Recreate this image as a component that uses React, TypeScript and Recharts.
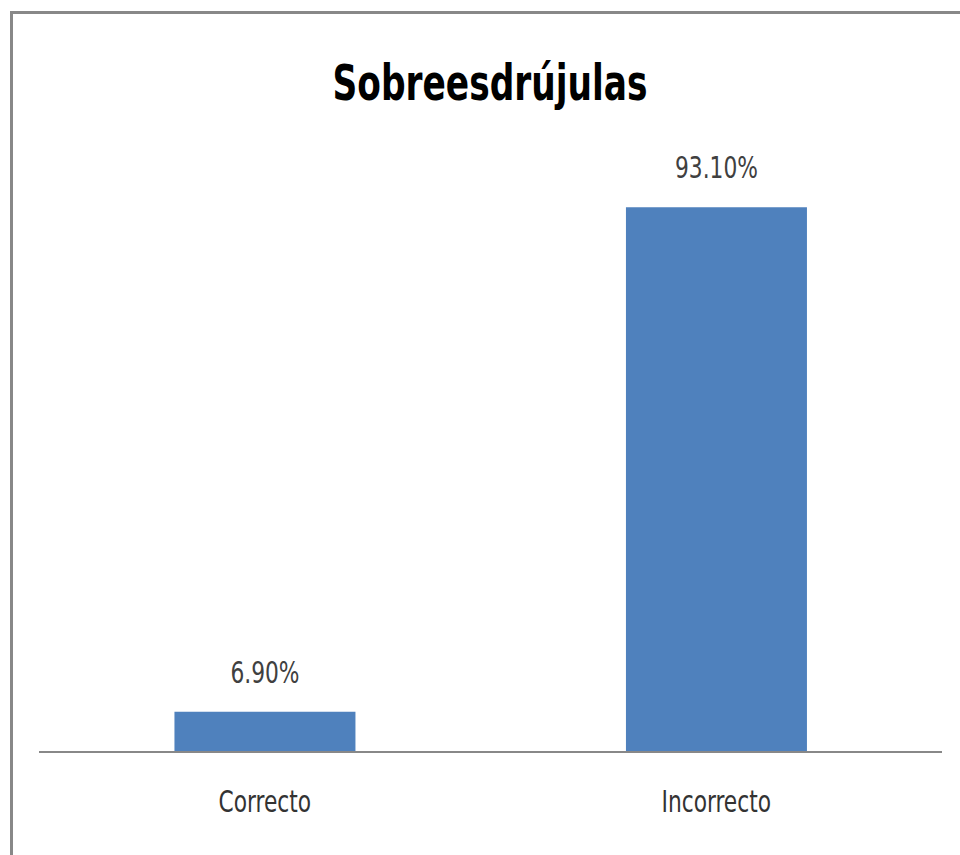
import { BarChart, Bar, XAxis, YAxis, LabelList } from 'recharts';

const categories = ['Correcto', 'Incorrecto'];
const percentages = [6.9, 93.1];

const data = categories.map((name, i) => ({ name, value: percentages[i] }));

const font = '"DejaVu Sans Condensed", "DejaVu Sans", sans-serif';
const squeeze = 0.78;

// narrow text, since no Calibri-like face is available
const NarrowText = ({ x, y, children, size, color, bold }: any) => (
  <g transform={`translate(${x},${y})`}>
    <text
      transform={`scale(${squeeze},1)`}
      textAnchor="middle"
      fontFamily={font}
      fontSize={size}
      fontWeight={bold ? 'bold' : 'normal'}
      fill={color}
    >
      {children}
    </text>
  </g>
);

const CategoryTick = (props: any) => {
  const { x, y, payload } = props;
  return (
    <NarrowText x={x} y={y + 54} size={31} color="#333">
      {payload.value}
    </NarrowText>
  );
};

const ValueLabel = (props: any) => {
  const { x, y, width, value } = props;
  return (
    <NarrowText x={x + width / 2} y={y - 29} size={31} color="#404040">
      {`${Number(value).toFixed(2)}%`}
    </NarrowText>
  );
};

const App = () => {
  return (
    <div style={{ position: 'absolute', left: 0, top: 0, width: 960, height: 855, background: '#fff' }}>
      <div style={{ position: 'absolute', left: 10, top: 11, width: 950, height: 3, background: '#888' }} />
      <div style={{ position: 'absolute', left: 10, top: 11, width: 3, height: 844, background: '#888' }} />
      <div style={{ position: 'absolute', left: 0, top: 0 }}>
        <BarChart
          width={960}
          height={855}
          data={data}
          margin={{ top: 167, right: 18, bottom: 73, left: 39 }}
          barCategoryGap="30%"
        >
          <XAxis
            dataKey="name"
            axisLine={{ stroke: '#888', strokeWidth: 2 }}
            tickLine={false}
            tickMargin={0}
            tick={<CategoryTick />}
          />
          <YAxis hide domain={[0, 100]} />
          <Bar dataKey="value" fill="#4F81BD" isAnimationActive={false}>
            <LabelList dataKey="value" content={<ValueLabel />} />
          </Bar>
        </BarChart>
      </div>
      <svg width={960} height={855} style={{ position: 'absolute', left: 0, top: 0, pointerEvents: 'none' }}>
        <NarrowText x={490} y={100} size={49} color="#000" bold>
          Sobreesdrújulas
        </NarrowText>
      </svg>
    </div>
  );
};

export default App;
